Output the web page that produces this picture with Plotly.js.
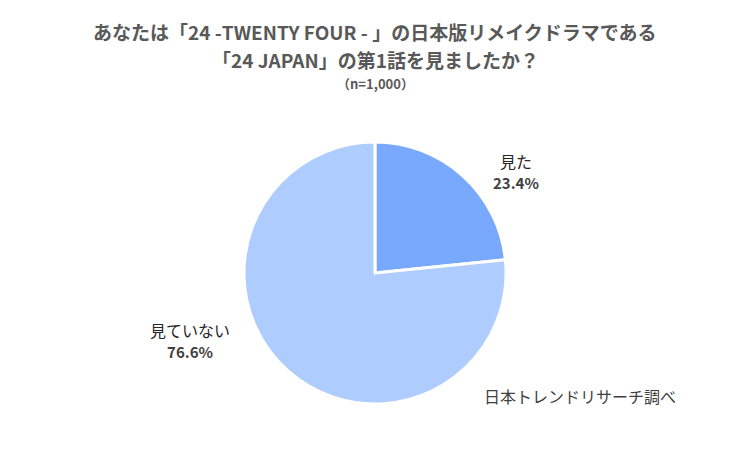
<!DOCTYPE html>
<html>
<head>
<meta charset="utf-8">
<script src="https://cdn.plot.ly/plotly-3.0.1.min.js"></script>
<style>html,body{margin:0;padding:0;background:#fff;}#chart{width:750px;height:450px;}</style>
</head>
<body>
<div id="chart"></div>
<script>
const titleLines = ["あなたは「24 -TWENTY FOUR - 」の日本版リメイクドラマである", "「24 JAPAN」の第1話を見ましたか？"];
const sampleNote = "（n=1,000）";
const categories = ["見た", "見ていない"];
const values = [23.4, 76.6];
const sliceColors = ["#79a9fc", "#afccfe"];
const sourceNote = "日本トレンドリサーチ調べ";

const labelPos = [{x: 516, y: 171}, {x: 190, y: 340}];
const FONT = "'Noto Sans CJK JP', 'Noto Sans', sans-serif";

const annotations = [];
titleLines.forEach((t, i) => {
  annotations.push({text: "<b>" + t + "</b>", xref: "paper", yref: "paper",
    x: 0.5, y: 1 - (31 + i * 28) / 450, xanchor: "center", yanchor: "middle",
    showarrow: false, font: {family: FONT, size: 19, color: "#595959"}});
});
annotations.push({text: "<b>" + sampleNote + "</b>", xref: "paper", yref: "paper",
  x: 0.5, y: 1 - 84 / 450, xanchor: "center", yanchor: "middle",
  showarrow: false, font: {family: FONT, size: 13, color: "#595959"}});
categories.forEach((c, i) => {
  annotations.push({text: c + "<br><b><span style='color:#404040;font-size:15px'>" + values[i].toFixed(1) + "%</span></b>", xref: "paper", yref: "paper",
    x: labelPos[i].x / 750, y: 1 - labelPos[i].y / 450, xanchor: "center", yanchor: "middle",
    align: "center", showarrow: false, font: {family: FONT, size: 16, color: "#262626"}});
});
annotations.push({text: sourceNote, xref: "paper", yref: "paper",
  x: 482 / 750, y: 1 - 396 / 450, xanchor: "left", yanchor: "middle",
  showarrow: false, font: {family: FONT, size: 16, color: "#404040"}});

const cx = 375, cy = 273, r = 131;
const data = [{
  type: "pie",
  labels: categories,
  values: values,
  sort: false,
  direction: "clockwise",
  rotation: 0,
  textinfo: "none",
  hoverinfo: "label+percent",
  marker: {colors: sliceColors, line: {color: "#ffffff", width: 3}},
  domain: {x: [(cx - r) / 750, (cx + r) / 750], y: [(450 - cy - r) / 450, (450 - cy + r) / 450]}
}];

const layout = {
  width: 750, height: 450,
  margin: {l: 0, r: 0, t: 0, b: 0},
  paper_bgcolor: "#ffffff",
  showlegend: false,
  annotations: annotations
};
Plotly.newPlot("chart", data, layout, {displayModeBar: false, staticPlot: true});
</script>
</body>
</html>
